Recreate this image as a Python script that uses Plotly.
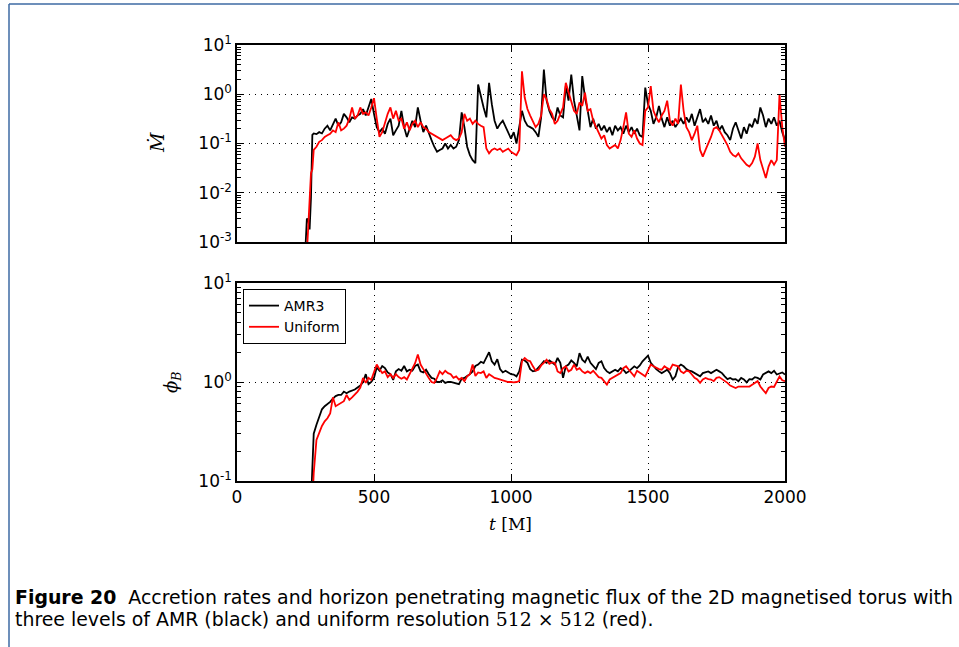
import plotly.graph_objects as go

W, H = 959, 647

# time grid [M]
t = [250, 255, 260, 265, 270, 275, 280] + list(range(290, 2001, 10))

mdot_amr3 = [
    0.0008, 0.003, 0.0028, 0.0018, 0.008, 0.15, 0.16,
    0.155, 0.17, 0.16, 0.2, 0.23, 0.185, 0.25, 0.32, 0.23, 0.27,
    0.40, 0.34, 0.27, 0.34, 0.32, 0.37, 0.40, 0.5, 0.37, 0.54,
    0.8, 0.40, 0.215, 0.17, 0.2, 0.158, 0.25, 0.32, 0.147, 0.185,
    0.23, 0.46, 0.215, 0.136, 0.2, 0.29, 0.215, 0.54, 0.29, 0.17,
    0.23, 0.158, 0.117, 0.086, 0.068, 0.074, 0.079, 0.1, 0.079, 0.093,
    0.079, 0.086, 0.117, 0.43, 0.215, 0.086, 0.058, 0.046, 0.040, 1.58,
    0.86, 0.54, 0.34, 1.71, 0.63, 0.29, 0.2, 0.25, 0.29, 0.215,
    0.17, 0.126, 0.17, 0.1, 0.215, 0.46, 0.29, 0.23, 0.215, 0.2,
    0.17, 0.136, 0.34, 3.16, 0.74, 0.46, 0.34, 0.29, 0.54, 0.37,
    0.34, 1.47, 0.74, 2.5, 0.74, 0.40, 0.185, 2.33, 0.86, 0.46,
    0.215, 0.32, 0.2, 0.25, 0.185, 0.23, 0.17, 0.215, 0.147, 0.23,
    0.185, 0.215, 0.158, 0.23, 0.17, 0.215, 0.158, 0.2, 0.147, 0.136,
    1.36, 0.63, 0.46, 0.25, 0.34, 0.58, 0.32, 0.215, 0.34, 0.23,
    0.29, 0.215, 0.27, 0.32, 0.25, 0.34, 0.27, 0.40, 0.23, 0.34,
    0.50, 0.27, 0.32, 0.25, 0.37, 0.23, 0.29, 0.185, 0.23, 0.17,
    0.147, 0.117, 0.2, 0.27, 0.185, 0.126, 0.215, 0.158, 0.25, 0.215,
    0.32, 0.25, 0.54, 0.37, 0.215, 0.32, 0.25, 0.34, 0.23, 0.29,
    0.17, 0.117,
]

mdot_uniform = [
    0.0005, 0.0006, 0.002, 0.006, 0.025, 0.03, 0.074,
    0.086, 0.108, 0.117, 0.136, 0.147, 0.158, 0.185, 0.17, 0.27, 0.185,
    0.2, 0.23, 0.32, 0.54, 0.32, 0.37, 0.54, 0.40, 0.43, 0.37,
    0.54, 0.83, 0.32, 0.136, 0.17, 0.27, 0.40, 0.54, 0.32, 0.46,
    0.29, 0.32, 0.2, 0.27, 0.185, 0.25, 0.29, 0.215, 0.27, 0.215,
    0.2, 0.17, 0.158, 0.147, 0.136, 0.126, 0.117, 0.126, 0.136, 0.147,
    0.126, 0.117, 0.126, 0.17, 0.40, 0.29, 0.32, 0.25, 0.29, 0.25,
    0.23, 0.215, 0.079, 0.063, 0.074, 0.079, 0.074, 0.079, 0.068, 0.074,
    0.079, 0.068, 0.063, 0.058, 0.074, 2.93, 0.86, 0.50, 0.37, 0.27,
    0.215, 0.25, 0.37, 1.0, 0.79, 0.5, 0.40, 0.25, 0.29, 0.40,
    0.54, 1.71, 1.08, 0.74, 0.46, 0.40, 0.68, 0.58, 1.08, 0.46,
    0.50, 0.29, 0.215, 0.17, 0.126, 0.147, 0.093, 0.079, 0.086, 0.093,
    0.079, 0.117, 0.215, 0.43, 0.158, 0.136, 0.185, 0.126, 0.1, 0.093,
    0.46, 0.54, 1.47, 0.46, 0.34, 0.27, 0.37, 0.46, 0.74, 0.29,
    0.23, 0.32, 0.25, 1.58, 0.46, 0.215, 0.17, 0.117, 0.158, 0.23,
    0.074, 0.054, 0.074, 0.1, 0.136, 0.2, 0.215, 0.185, 0.147, 0.117,
    0.093, 0.068, 0.058, 0.054, 0.063, 0.050, 0.043, 0.037, 0.034, 0.040,
    0.054, 0.1, 0.046, 0.029, 0.020, 0.034, 0.046, 0.037, 0.046, 1.0,
    0.215, 0.086,
]

phi_amr3 = [
    0.05, 0.05, 0.05, 0.05, 0.06, 0.15, 0.30,
    0.37, 0.45, 0.53, 0.57, 0.60, 0.63, 0.68, 0.72, 0.74, 0.74,
    0.80, 0.77, 0.80, 0.82, 0.84, 0.88, 0.92, 1.0, 1.2, 0.95,
    1.0, 1.1, 1.4, 1.3, 1.45, 1.38, 1.25, 1.2, 1.05, 1.28,
    1.35, 1.3, 1.45, 1.28, 1.33, 1.3, 1.45, 1.5, 1.28, 1.25,
    1.33, 1.2, 1.1, 1.08, 1.0, 1.0, 1.04, 0.98, 1.0, 1.0,
    0.98, 0.96, 0.95, 1.08, 1.1, 1.15, 1.2, 1.28, 1.45, 1.5,
    1.6, 1.55, 1.75, 2.0, 1.62, 1.5, 1.7, 1.35, 1.25, 1.3,
    1.25, 1.2, 1.19, 1.14, 1.28, 1.68, 1.65, 1.56, 1.35, 1.28,
    1.3, 1.38, 1.5, 1.62, 1.56, 1.65, 1.58, 1.5, 1.75, 1.56,
    1.1, 1.44, 1.5, 1.65, 1.56, 1.44, 1.96, 1.68, 1.58, 1.8,
    1.56, 1.44, 1.35, 1.56, 1.62, 1.38, 1.28, 1.23, 1.28, 1.33,
    1.28, 1.38, 1.33, 1.23, 1.28, 1.35, 1.44, 1.38, 1.47, 1.62,
    1.75, 1.85, 1.56, 1.44, 1.35, 1.28, 1.23, 1.28, 1.33, 1.23,
    1.06, 1.14, 1.42, 1.5, 1.44, 1.35, 1.3, 1.28, 1.23, 1.19,
    1.14, 1.23, 1.25, 1.28, 1.23, 1.28, 1.33, 1.28, 1.23, 1.14,
    1.07, 1.1, 1.06, 1.07, 1.02, 1.1, 1.06, 0.99, 1.07, 1.06,
    1.12, 1.1, 1.06, 1.19, 1.23, 1.28, 1.23, 1.3, 1.19, 1.23,
    1.25, 1.19,
]

phi_uniform = [
    0.05, 0.05, 0.05, 0.05, 0.05, 0.06, 0.12,
    0.26, 0.31, 0.36, 0.40, 0.43, 0.48, 0.70, 0.57, 0.59, 0.62,
    0.64, 0.74, 0.66, 0.70, 0.74, 0.80, 0.88, 1.1, 0.98, 1.1,
    1.05, 1.25, 1.5, 1.35, 1.23, 1.28, 1.12, 1.2, 1.1, 1.2,
    1.12, 1.08, 1.12, 1.06, 1.2, 1.33, 1.55, 1.9, 1.5, 1.35,
    1.2, 1.1, 1.0, 0.98, 1.1, 1.28, 1.2, 1.3, 1.23, 1.2,
    1.1, 1.14, 1.06, 1.1, 1.02, 1.14, 1.2, 1.5, 1.15, 1.25,
    1.23, 1.28, 1.1, 1.2, 1.15, 1.1, 1.08, 1.06, 1.04, 1.02,
    1.0, 1.0, 0.99, 1.0, 1.02, 1.62, 1.75, 1.65, 1.62, 1.44,
    1.3, 1.33, 1.47, 1.56, 1.68, 1.53, 1.58, 1.56, 1.28, 1.23,
    1.38, 1.44, 1.28, 1.33, 1.5, 1.33, 1.38, 1.28, 1.23, 1.28,
    1.23, 1.3, 1.19, 1.12, 1.1, 1.02, 0.94, 1.06, 1.1, 1.14,
    1.19, 1.23, 1.38, 1.44, 1.33, 1.23, 1.14, 1.3, 1.23, 1.19,
    1.14, 1.33, 1.5, 1.44, 1.38, 1.35, 1.33, 1.44, 1.38, 1.33,
    1.5, 1.47, 1.44, 1.28, 1.23, 1.3, 1.28, 1.19, 1.1, 1.06,
    0.98, 1.06, 1.1, 1.07, 1.06, 1.02, 1.1, 1.12, 1.07, 1.04,
    0.98, 0.92, 0.89, 0.87, 0.9, 0.9, 0.89, 0.9, 0.9, 0.94,
    0.98, 1.02, 0.9, 0.84, 0.77, 0.87, 0.9, 0.89, 1.02, 1.14,
    1.04, 1.02,
]

x_ticks = [0, 500, 1000, 1500, 2000]
mdot_ticks = [1e-3, 1e-2, 1e-1, 1e0, 1e1]
mdot_ticktext = ["10<sup>-3</sup>", "10<sup>-2</sup>", "10<sup>-1</sup>", "10<sup>0</sup>", "10<sup>1</sup>"]
phi_ticks = [1e-1, 1e0, 1e1]
phi_ticktext = ["10<sup>-1</sup>", "10<sup>0</sup>", "10<sup>1</sup>"]

for arr in (mdot_amr3, mdot_uniform, phi_amr3, phi_uniform):
    assert len(arr) == len(t), len(arr)

def minor_vals(lo_exp, hi_exp):
    out = []
    for e in range(lo_exp, hi_exp):
        for k in range(2, 10):
            out.append(k * 10.0 ** e)
    return out

FONT = "DejaVu Sans"
SERIF = "DejaVu Serif"
BLACK = "#000000"
RED = "#ff0000"
LW = 1.8

fig = go.Figure()
fig.add_trace(go.Scatter(x=t, y=mdot_amr3, mode="lines", line=dict(color=BLACK, width=LW),
                         name="AMR3", showlegend=False, xaxis="x", yaxis="y"))
fig.add_trace(go.Scatter(x=t, y=mdot_uniform, mode="lines", line=dict(color=RED, width=LW),
                         name="Uniform", showlegend=False, xaxis="x", yaxis="y"))
fig.add_trace(go.Scatter(x=t, y=phi_amr3, mode="lines", line=dict(color=BLACK, width=LW),
                         name="AMR3", xaxis="x2", yaxis="y2"))
fig.add_trace(go.Scatter(x=t, y=phi_uniform, mode="lines", line=dict(color=RED, width=LW),
                         name="Uniform", xaxis="x2", yaxis="y2"))

xdom = [237 / W, 785 / W]
top_dom = [1 - 242 / H, 1 - 45 / H]
bot_dom = [1 - 481 / H, 1 - 283 / H]

axis_common = dict(
    automargin=False,
    showline=True, linecolor=BLACK, linewidth=1.5, mirror="allticks",
    ticks="inside", ticklen=7, tickwidth=1, tickcolor=BLACK,
    showgrid=True, gridcolor=BLACK, gridwidth=1, griddash="1px,5px",
    zeroline=False, tickfont=dict(family=FONT, size=17, color=BLACK),
)

fig.update_layout(
    template="none",
    width=W, height=H, autosize=False,
    margin=dict(l=0, r=0, t=0, b=0, pad=0),
    paper_bgcolor="white", plot_bgcolor="white",
    showlegend=True,
    legend=dict(x=243 / W, y=1 - 289 / H, xanchor="left", yanchor="top",
                bgcolor="white", bordercolor=BLACK, borderwidth=1,
                font=dict(family=FONT, size=14, color=BLACK),
                tracegroupgap=0, itemwidth=30),
    xaxis=dict(domain=xdom, anchor="y", range=[0, 2000], tickvals=x_ticks,
               showticklabels=False, **axis_common),
    yaxis=dict(domain=top_dom, anchor="x", type="log", range=[-3, 1],
               tickvals=mdot_ticks, ticktext=mdot_ticktext,
               minor=dict(tickmode="array", tickvals=minor_vals(-3, 1), ticks="inside",
                          ticklen=4, tickcolor=BLACK, showgrid=False),
               **axis_common),
    xaxis2=dict(domain=xdom, anchor="y2", range=[0, 2000], tickvals=x_ticks,
                showticklabels=True, **axis_common),
    yaxis2=dict(domain=bot_dom, anchor="x2", type="log", range=[-1, 1],
                tickvals=phi_ticks, ticktext=phi_ticktext,
                minor=dict(tickmode="array", tickvals=minor_vals(-1, 1), ticks="inside",
                           ticklen=4, tickcolor=BLACK, showgrid=False),
                **axis_common),
)

CAP_FONT = "DejaVu Sans"
CAP_SIZE = 18.9
annotations = [
    dict(text="<i>Ṁ</i>", x=157 / W, y=1 - 143 / H, textangle=-90,
         font=dict(family=SERIF, size=19, color=BLACK)),
    dict(text="<i>ϕ</i><sub><i>B</i></sub>", x=172 / W, y=1 - 382 / H, textangle=-90,
         font=dict(family=SERIF, size=18, color=BLACK)),
    dict(text="<i>t</i> [M]", x=510 / W, y=1 - 524 / H,
         font=dict(family=SERIF, size=17, color=BLACK)),
    dict(text="<b>Figure 20</b>  Accretion rates and horizon penetrating magnetic flux of the 2D magnetised torus with",
         x=13 / W, y=1 - 597 / H, xanchor="left",
         font=dict(family=CAP_FONT, size=CAP_SIZE, color=BLACK)),
    dict(text="three levels of AMR (black) and uniform resolution <span style=\"font-family:'DejaVu Serif'\">512 × 512</span> (red).",
         x=13 / W, y=1 - 619 / H, xanchor="left",
         font=dict(family=CAP_FONT, size=CAP_SIZE, color=BLACK)),
]
for a in annotations:
    a.update(xref="paper", yref="paper", showarrow=False, yanchor="middle")
    a.setdefault("xanchor", "center")
fig.update_layout(annotations=annotations)

frame = "#3d6aa3"
fig.update_layout(shapes=[
    dict(type="line", xref="paper", yref="paper", x0=9 / W, x1=1, y0=1 - 4 / H, y1=1 - 4 / H,
         line=dict(color=frame, width=1.5)),
    dict(type="line", xref="paper", yref="paper", x0=9 / W, x1=9 / W, y0=0, y1=1 - 4 / H,
         line=dict(color=frame, width=1.5)),
])

fig.write_html("out.html")
